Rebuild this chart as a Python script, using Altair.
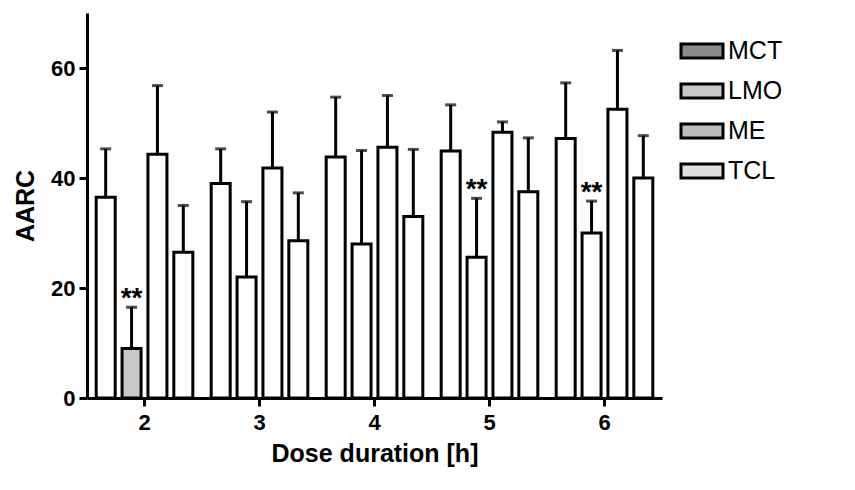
import pandas as pd
import altair as alt

hours = ["2", "3", "4", "5", "6"]
groups = ["MCT", "LMO", "ME", "TCL"]
means = {
    "MCT": [36.5, 39.0, 43.8, 44.9, 47.2],
    "LMO": [9.0, 22.0, 28.0, 25.6, 30.0],
    "ME": [44.3, 41.8, 45.6, 48.3, 52.5],
    "TCL": [26.5, 28.6, 33.0, 37.5, 40.0],
}
upper = {
    "MCT": [45.3, 45.3, 54.7, 53.3, 57.3],
    "LMO": [16.5, 35.7, 45.0, 36.3, 35.8],
    "ME": [56.8, 52.0, 55.0, 50.2, 63.2],
    "TCL": [35.0, 37.3, 45.2, 47.3, 47.7],
}
stars = {("2", "LMO"), ("5", "LMO"), ("6", "LMO")}
legend_fill = ["#8a8a8a", "#c8c8c8", "#bdbdbd", "#e0e0e0"]

rows = []
for g in groups:
    for i, h in enumerate(hours):
        rows.append({
            "hour": h, "group": g, "mean": means[g][i], "upper": upper[g][i],
            "fill": "#c8c8c8" if (h == "2" and g == "LMO") else "white",
            "star": "**" if (h, g) in stars else "",
        })
df = pd.DataFrame(rows)

font = "Liberation Sans"
x = alt.X("hour:N", title="Dose duration [h]", scale=alt.Scale(paddingInner=0.1, paddingOuter=0.05),
          axis=alt.Axis(labelAngle=0, domainWidth=3, tickWidth=3, tickSize=8,
                        labelPadding=6, titlePadding=8))
xo = alt.XOffset("group:N", sort=groups, scale=alt.Scale(paddingInner=0.0, paddingOuter=0.0))
y = alt.Y("mean:Q", title="AARC", scale=alt.Scale(domain=[0, 70], nice=False),
          axis=alt.Axis(values=[0, 20, 40, 60], grid=False, domainWidth=3, tickWidth=3,
                        tickSize=8, labelPadding=4, titlePadding=12))

base = alt.Chart(df)
bars = base.mark_bar(stroke="black", strokeWidth=3, width=19).encode(
    x=x, xOffset=xo, y=y, fill=alt.Fill("fill:N", scale=None))
err = base.mark_rule(color="black", strokeWidth=3).encode(
    x=x, xOffset=xo, y="mean:Q", y2="upper:Q")
cap = base.mark_tick(color="black", thickness=3, size=11).encode(
    x=x, xOffset=xo, y="upper:Q")
txt = base.mark_text(font=font, fontSize=28, fontWeight="bold", dy=6, baseline="bottom").encode(
    x=x, xOffset=xo, y="upper:Q", text="star:N")

main = alt.layer(bars, err, cap, txt).properties(width=575, height=385)

leg_df = pd.DataFrame({"group": groups, "fill": legend_fill})
lbase = alt.Chart(leg_df)
ly = alt.Y("group:N", sort=groups, axis=None, scale=alt.Scale(range=[18, 178], padding=0))
lrect = lbase.mark_bar(stroke="black", strokeWidth=3, height=14, width=42).encode(
    y=ly, x=alt.value(30), fill=alt.Fill("fill:N", scale=None))
ltxt = lbase.mark_text(font=font, fontSize=25, align="left").encode(
    y=ly, x=alt.value(56), text="group:N")
legend = alt.layer(lrect, ltxt).properties(width=130, height=385)

chart = alt.hconcat(main, legend, spacing=10).configure_view(strokeWidth=0).configure_axis(
    labelFont=font, titleFont=font, labelFontSize=22, labelFontWeight="bold",
    titleFontSize=25, titleFontWeight="bold", labelColor="black", titleColor="black",
    domainColor="black", tickColor="black"
).properties(padding={"left": 5, "top": 5, "right": 0, "bottom": 5})
chart.save("out.html", embed_options={"renderer": "svg", "actions": False})
